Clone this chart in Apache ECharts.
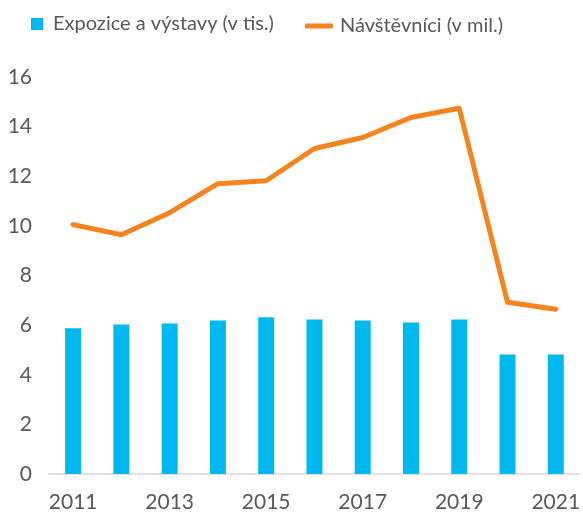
<!DOCTYPE html>
<html>
<head>
<meta charset="utf-8">
<script src="https://cdn.jsdelivr.net/npm/echarts@6/dist/echarts.min.js"></script>
<style>
  html, body { margin: 0; padding: 0; background: #fff; }
  #chart { width: 583px; height: 516px; }
</style>
</head>
<body>
<div id="chart"></div>
<script>
// data
const years = ['2011', '2012', '2013', '2014', '2015', '2016', '2017', '2018', '2019', '2020', '2021']
const expozice = [5.87, 6.03, 6.07, 6.19, 6.32, 6.23, 6.19, 6.11, 6.23, 4.82, 4.82]
const navstevnici = [10.05, 9.64, 10.53, 11.7, 11.82, 13.12, 13.56, 14.37, 14.74, 6.92, 6.64]
const yTicks = [0, 2, 4, 6, 8, 10, 12, 14, 16]

const barName = 'Expozice a výstavy (v tis.)'
const lineName = 'Návštěvníci (v mil.)'
const textColor = '#595959'
const font = 'Lato, "Open Sans", sans-serif'

let myChart = echarts.init(document.getElementById('chart'))
let option = {
  animation: false,
  textStyle: { fontFamily: font, color: textColor },
  grid: { left: 49, right: 0, top: 77, bottom: 42 },
  legend: [
    {
      data: [{ name: barName, icon: 'rect' }],
      left: 31,
      top: 14,
      padding: 0,
      itemWidth: 12,
      itemHeight: 12,
      textStyle: { fontSize: 20, color: textColor, fontFamily: font, padding: [0, 0, 0, 5] }
    },
    {
      data: [{ name: lineName, icon: 'roundRect' }],
      left: 305,
      top: 16,
      padding: 0,
      itemWidth: 28,
      itemHeight: 5,
      textStyle: { fontSize: 20, color: textColor, fontFamily: font, padding: [0, 0, 0, 2] }
    }
  ],
  xAxis: {
    type: 'category',
    data: years,
    axisLine: { lineStyle: { color: '#D9D9D9', width: 1.5 } },
    axisTick: { show: false },
    axisLabel: { interval: 1, fontSize: 21, color: textColor, margin: 18 }
  },
  yAxis: {
    type: 'value',
    min: yTicks[0],
    max: yTicks[yTicks.length - 1],
    interval: 2,
    axisLine: { show: false },
    axisTick: { show: false },
    splitLine: { show: false },
    axisLabel: { fontSize: 21, color: textColor, margin: 17 }
  },
  series: [
    {
      name: barName,
      type: 'bar',
      data: expozice,
      barWidth: 16,
      itemStyle: { color: '#00B8F0' }
    },
    {
      name: lineName,
      type: 'line',
      data: navstevnici,
      symbol: 'none',
      lineStyle: { color: '#F5841F', width: 5, cap: 'round', join: 'round' },
      itemStyle: { color: '#F5841F' }
    }
  ]
}
myChart.setOption(option, true)
</script>
</body>
</html>
